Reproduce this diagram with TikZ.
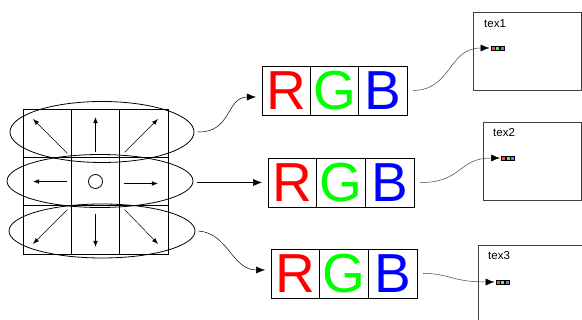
\documentclass[tikz,border=0pt]{standalone}
\usepackage{fontspec}
\setmainfont{Liberation Sans}
\usetikzlibrary{shapes.geometric,arrows.meta}
\begin{document}
\begin{tikzpicture}[x=1pt,y=-1pt,
  cell/.style={draw, line width=0.8pt, minimum width=48.3pt, minimum height=48.3pt, inner sep=0pt, outer sep=0pt},
  chan/.style={draw, line width=0.8pt, minimum width=48.5pt, minimum height=49pt, inner sep=0pt, outer sep=0pt,
               font=\fontsize{55}{55}\selectfont},
  ring/.style={draw, ellipse, line width=0.8pt, inner sep=0pt},
  dirarrow/.style={-{Latex[length=6pt,width=4.5pt]}, line width=0.5pt},
  feed/.style={-{Latex[length=9pt,width=7pt]}, line width=0.5pt, shorten >=6pt},
  link/.style={-{Latex[length=9pt,width=7pt,black]}, draw=black!75, line width=0.5pt, shorten >=1.5pt},
  texbox/.style={draw=black!75, line width=0.9pt},
  texlabel/.style={font=\fontsize{11.5}{11.5}\selectfont, anchor=west, inner sep=0pt},
  chip/.style={draw=black, line width=0.4pt, minimum size=4pt, inner sep=0pt, outer sep=0pt}
]
\useasboundingbox (0,0) rectangle (582,320);
\clip (0,0) rectangle (582,320);

% 3x3 neighbourhood grid
\foreach \r/\yy in {1/133.2, 2/181.5, 3/229.8}
  \foreach \c/\xx in {1/47.2, 2/95.5, 3/143.8}
    \node[cell] (g\r\c) at (\xx,\yy) {};

% direction arrows in the outer cells
\draw[dirarrow] ([shift={(-4,-4)}]g11.south east) -- ([shift={(10,10)}]g11.north west);
\draw[dirarrow] ([shift={(0,-5)}]g12.south) -- ([shift={(0,8)}]g12.north);
\draw[dirarrow] ([shift={(5,-5)}]g13.south west) -- ([shift={(-10,10)}]g13.north east);
\draw[dirarrow] ([shift={(-4,0)}]g21.east) -- ([shift={(10,0)}]g21.west);
\draw[line width=0.8pt] (g22.center) circle (7);
\draw[dirarrow] ([shift={(4,2)}]g23.west) -- ([shift={(-10,2)}]g23.east);
\draw[dirarrow] ([shift={(-4,4)}]g31.north east) -- ([shift={(10,-10)}]g31.south west);
\draw[dirarrow] ([shift={(0,8)}]g32.north) -- ([shift={(0,-7)}]g32.south);
\draw[dirarrow] ([shift={(5,4)}]g33.north west) -- ([shift={(-10,-10)}]g33.south east);

% row groupings
\node[ring, minimum width=184pt, minimum height=61pt] (e1) at (102,132) {};
\node[ring, minimum width=186pt, minimum height=53pt] (e2) at (100,181) {};
\node[ring, minimum width=186pt, minimum height=54pt] (e3) at (102,231) {};

% packed RGB texels
\node[chan, text=red]          (r1) at (286.2,90.5) {R};
\node[chan, text={rgb,1:red,0;green,1;blue,0}] (r2) at (334.5,90.5) {G};
\node[chan, text=blue]         (r3) at (382.8,90.5) {B};

\node[chan, text=red]          (m1) at (292.3,182.5) {R};
\node[chan, text={rgb,1:red,0;green,1;blue,0}] (m2) at (341,182.5) {G};
\node[chan, text=blue]         (m3) at (389.7,182.5) {B};

\node[chan, text=red]          (b1) at (295.3,273.5) {R};
\node[chan, text={rgb,1:red,0;green,1;blue,0}] (b2) at (344,273.5) {G};
\node[chan, text=blue]         (b3) at (392.7,273.5) {B};

% rows feeding the texels
\draw[feed] ([xshift=3]e1.east) .. controls (232,133) and (226,97) .. (r1.west |- 0,97);
\coordinate (s2) at ([xshift=4]e2.east);
\draw[feed] (s2 |- m1.west) -- (m1.west);
\draw[feed] ([xshift=3]e3.east) .. controls (228,233) and (232,270) .. (b1.west |- 0,270);

% textures
\draw[texbox] (473,12) rectangle (581.5,90);
\draw[texbox] (483,122) rectangle (581.5,200);
\draw[texbox] (478,245) rectangle (600,340);
\node[texlabel] (t1) at (484,24) {tex1};
\node[texlabel] (t2) at (493,133) {tex2};
\node[texlabel] (t3) at (488,256) {tex3};

% one texel stored in each texture
\node[chip, fill=red!70]   (k1a) at (493,48) {};
\node[chip, fill=green!70] (k1b) at (497.5,48) {};
\node[chip, fill=blue!55]  (k1c) at (502,48) {};
\node[chip, fill=red!70]   (k2a) at (503.5,158) {};
\node[chip, fill=green!70] (k2b) at (508,158) {};
\node[chip, fill=blue!55]  (k2c) at (512.5,158) {};
\node[chip, fill=red!70]   (k3a) at (498,282) {};
\node[chip, fill=green!70] (k3b) at (502.5,282) {};
\node[chip, fill=blue!55]  (k3c) at (507,282) {};

\draw[link] ([xshift=6]r3.east) .. controls (452,90) and (448,48) .. (k1a.west);
\draw[link] ([xshift=6]m3.east) .. controls (462,183) and (458,158) .. (k2a.west);
\draw[link] ([xshift=6]b3.east) .. controls (448,273) and (452,282) .. (k3a.west);
\end{tikzpicture}
\end{document}
